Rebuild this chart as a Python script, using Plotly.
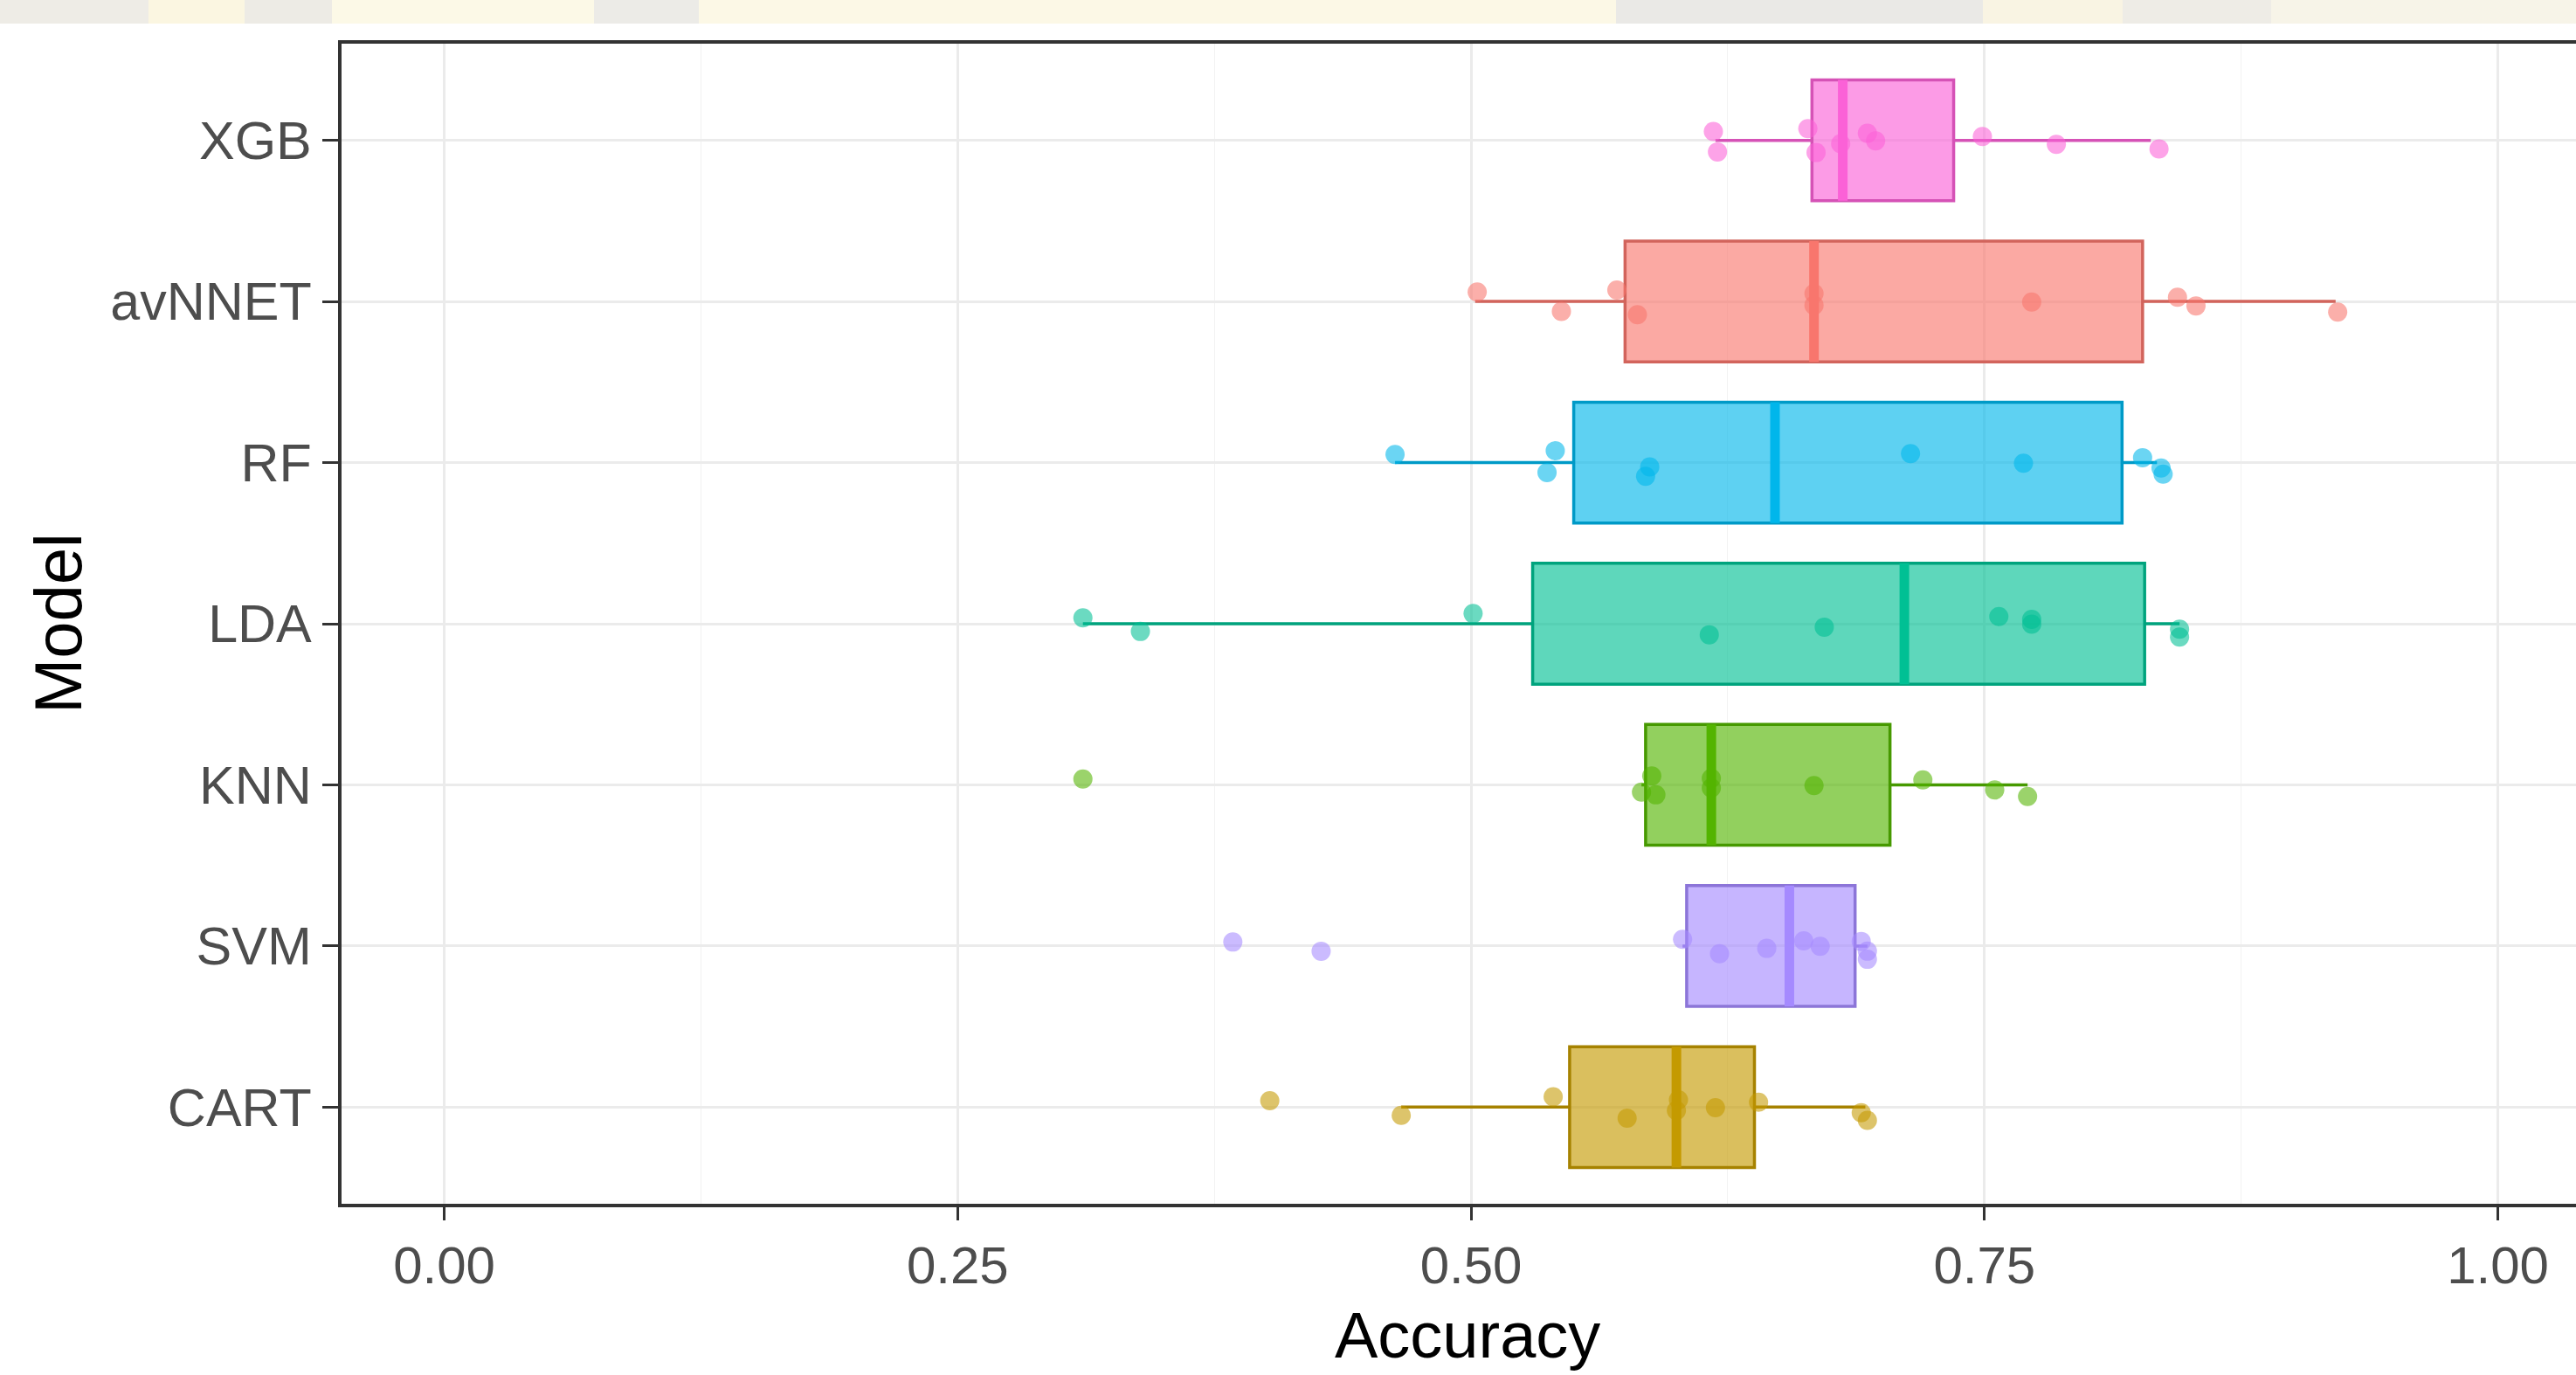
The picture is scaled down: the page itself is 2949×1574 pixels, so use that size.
import plotly.graph_objects as go

# ---------------- data (bottom -> top order on the y axis) ----------------
models = ["CART", "SVM", "KNN", "LDA", "RF", "avNNET", "XGB"]
hues = ["#C49A00", "#A58AFF", "#53B400", "#00C094", "#00B6EB", "#F8766D", "#FB61D7"]

acc_CART = [0.402, 0.466, 0.540, 0.576, 0.600, 0.601, 0.619, 0.640, 0.690, 0.693]
acc_SVM = [0.384, 0.427, 0.603, 0.621, 0.644, 0.662, 0.670, 0.690, 0.693, 0.693]
acc_KNN = [0.311, 0.583, 0.588, 0.590, 0.617, 0.617, 0.667, 0.720, 0.755, 0.771]
acc_LDA = [0.311, 0.339, 0.501, 0.616, 0.672, 0.757, 0.773, 0.773, 0.845, 0.845]
acc_RF = [0.463, 0.537, 0.541, 0.585, 0.587, 0.714, 0.769, 0.827, 0.836, 0.837]
acc_avNNET = [0.503, 0.544, 0.571, 0.581, 0.667, 0.667, 0.773, 0.844, 0.853, 0.922]
acc_XGB = [0.618, 0.620, 0.664, 0.668, 0.680, 0.693, 0.697, 0.749, 0.785, 0.835]

# box summaries as drawn in the chart
whisker_low = [0.466, 0.603, 0.583, 0.311, 0.463, 0.502, 0.619]
q1 = [0.548, 0.605, 0.585, 0.530, 0.550, 0.575, 0.666]
median = [0.600, 0.655, 0.617, 0.711, 0.648, 0.667, 0.681]
q3 = [0.638, 0.687, 0.704, 0.828, 0.817, 0.827, 0.735]
whisker_high = [0.692, 0.693, 0.771, 0.845, 0.834, 0.921, 0.831]

x_ticks = [0.00, 0.25, 0.50, 0.75, 1.00]
x_tick_labels = ["0.00", "0.25", "0.50", "0.75", "1.00"]

accuracy = [acc_CART, acc_SVM, acc_KNN, acc_LDA, acc_RF, acc_avNNET, acc_XGB]

# ---------------- helpers ----------------
def rgba(hex_color, a):
    h = hex_color.lstrip("#")
    r, g, b = int(h[0:2], 16), int(h[2:4], 16), int(h[4:6], 16)
    return f"rgba({r},{g},{b},{a})"

def darker(hex_color, f):
    h = hex_color.lstrip("#")
    r, g, b = int(h[0:2], 16), int(h[2:4], 16), int(h[4:6], 16)
    return f"rgb({int(r*f)},{int(g*f)},{int(b*f)})"

W, H = 2949, 1574
L, R, T, B = 391, 0, 50, 196
BOXW = 0.75
positions = list(range(1, len(models) + 1))

fig = go.Figure()

# boxes (precomputed stats)
for i, m in enumerate(models):
    fig.add_trace(go.Box(
        y=[positions[i]], q1=[q1[i]], median=[median[i]], q3=[q3[i]],
        lowerfence=[whisker_low[i]], upperfence=[whisker_high[i]],
        orientation="h", width=BOXW, whiskerwidth=0,
        fillcolor=rgba(hues[i], 0.63),
        line=dict(color=darker(hues[i], 0.85), width=3.5),
        boxpoints=False, hoverinfo="skip", name=m, showlegend=False,
    ))

# thick median lines
for i, m in enumerate(models):
    fig.add_trace(go.Scatter(
        x=[median[i], median[i]],
        y=[positions[i] - BOXW / 2, positions[i] + BOXW / 2],
        mode="lines", line=dict(color=hues[i], width=11),
        hoverinfo="skip", showlegend=False,
    ))

# jittered points (plotly's own jitter, box itself invisible)
for i, m in enumerate(models):
    vals = accuracy[i]
    fig.add_trace(go.Box(
        x=vals, y=[positions[i]] * len(vals), orientation="h",
        width=BOXW, boxpoints="all", jitter=0.3, pointpos=0,
        fillcolor="rgba(0,0,0,0)", line=dict(color="rgba(0,0,0,0)", width=0),
        whiskerwidth=0,
        marker=dict(color=rgba(hues[i], 0.58), size=22, line=dict(width=0)),
        hoverinfo="skip", showlegend=False, name=m,
    ))

plot_w = W - L - R
plot_h = H - T - B
px_per_unit = 2351.0
x_min = -0.05
x_max = x_min + plot_w / px_per_unit

# decorative top band (photo watermark strip)
band = [
    (0, 170, "#EEECE6"), (170, 280, "#FBF6E1"), (280, 380, "#EDEBE5"),
    (380, 680, "#FCF9E7"), (680, 800, "#ECEBE7"), (800, 1850, "#FCF8E6"),
    (1850, 2270, "#EAE9E6"), (2270, 2430, "#F9F4E3"), (2430, 2600, "#EEECE6"),
    (2600, 2949, "#F7F4E8"),
]
shapes = []
for x0, x1, c in band:
    shapes.append(dict(
        type="rect", xref="paper", yref="paper",
        x0=(x0 - L) / plot_w, x1=(x1 - L) / plot_w,
        y0=(H - B - 27) / plot_h, y1=(H - B - 0) / plot_h,
        fillcolor=c, line=dict(width=0), layer="above",
    ))

font_family = "Liberation Sans, Arial, sans-serif"

fig.update_layout(
    width=W, height=H,
    margin=dict(l=L, r=R, t=T, b=B, pad=0),
    paper_bgcolor="white", plot_bgcolor="white",
    showlegend=False, hovermode=False,
    font=dict(family=font_family),
    shapes=shapes,
    xaxis=dict(
        range=[x_min, x_max], tickvals=x_ticks, ticktext=x_tick_labels,
        showgrid=True, gridcolor="#EBEBEB", gridwidth=2.5,
        minor=dict(showgrid=True, dtick=0.125, tick0=0.125,
                   gridcolor="#F2F2F2", gridwidth=1.3),
        zeroline=False, showline=True, mirror=True,
        linecolor="#333333", linewidth=4,
        ticks="outside", ticklen=15, tickwidth=3, tickcolor="#333333",
        tickfont=dict(size=60, color="#4D4D4D", family=font_family),
    ),
    yaxis=dict(
        range=[0.4, len(models) + 0.6], tickvals=positions, ticktext=models,
        showgrid=True, gridcolor="#EBEBEB", gridwidth=2.5,
        zeroline=False, showline=True, mirror=False,
        linecolor="#333333", linewidth=4,
        ticks="outside", ticklen=18, tickwidth=3, tickcolor="#333333",
        tickfont=dict(size=61, color="#4D4D4D", family=font_family),
    ),
    annotations=[
        dict(text="Accuracy", xref="paper", yref="paper",
             x=(1680 - L) / plot_w, y=-(H - 2 - (H - B)) / plot_h,
             xanchor="center", yanchor="bottom", showarrow=False,
             font=dict(size=74, color="black", family=font_family)),
        dict(text="Model", xref="paper", yref="paper",
             x=(66 - L) / plot_w, y=0.5, textangle=-90,
             xanchor="center", yanchor="middle", showarrow=False,
             font=dict(size=76, color="black", family=font_family)),
    ],
)

fig.write_html("out.html", config={"displayModeBar": False},
               post_script="document.body.style.margin='0';document.body.style.overflow='hidden';")
